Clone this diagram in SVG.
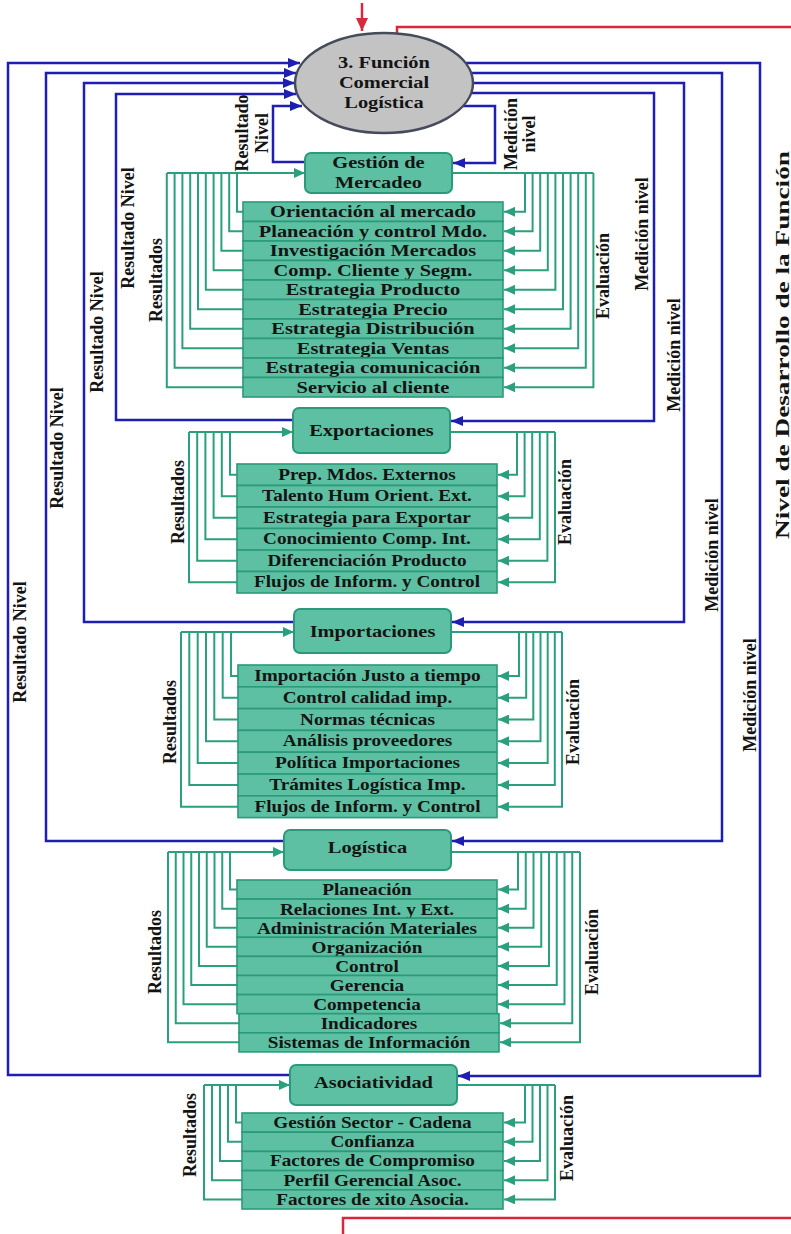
<svg xmlns="http://www.w3.org/2000/svg" width="791" height="1234" viewBox="0 0 791 1234">
  <style>
    text { font-family: "Liberation Serif", "Times New Roman", serif; font-weight: bold; fill: #141414; }
    .w { transform-box: fill-box; transform-origin: center; transform: scaleX(1.2); text-anchor: middle; }
    .hd { font-size: 17px; }
    .r17 { font-size: 17px; }
    .r16 { font-size: 16px; }
    .lb { font-size: 18px; text-anchor: middle; }
    .box { fill: #5ec0a2; stroke: #2a9a7a; stroke-width: 2; }
    .row { fill: #5ec0a2; stroke: #2a9a7a; stroke-width: 1.6; }
    .g { fill: none; stroke: #2ba07f; stroke-width: 2; }
    .ga { fill: none; stroke: #2ba07f; stroke-width: 2; marker-end: url(#ag); }
    .b { fill: none; stroke: #1e1eb2; stroke-width: 2.5; marker-end: url(#ab); }
    .rd { fill: none; stroke: #d9283c; stroke-width: 2.5; }
  </style>
  <defs>
    <marker id="ag" markerUnits="userSpaceOnUse" markerWidth="12" markerHeight="10" refX="11" refY="5" orient="auto">
      <path d="M0,0 L11,5 L0,10 z" fill="#2ba07f"/>
    </marker>
    <marker id="ab" markerUnits="userSpaceOnUse" markerWidth="13" markerHeight="10" refX="12" refY="5" orient="auto">
      <path d="M0,0 L12,5 L0,10 z" fill="#1e1eb2"/>
    </marker>
    <marker id="ar" markerUnits="userSpaceOnUse" markerWidth="14" markerHeight="14" refX="13" refY="6" orient="auto">
      <path d="M0,0 L13,6 L0,12 z" fill="#d9283c"/>
    </marker>
  </defs>

  <g id="connectors">
    <!-- red input / output -->
    <path class="rd" d="M362 3 V31" marker-end="url(#ar)"/>
    <path class="rd" d="M397 36 V27 H791"/>
    <path class="rd" d="M343 1234 V1218 H791"/>

    <!-- blue: results back to the function (left side) -->
    <path class="b" d="M290 1075 H8 V63 H300"/>
    <path class="b" d="M284 841 H46 V73 H296"/>
    <path class="b" d="M294 622 H84 V83 H295"/>
    <path class="b" d="M293 420 H116 V94 H296"/>
    <path class="b" d="M305 162 H273 V106 H302"/>

    <!-- blue: level measurement (right side) -->
    <path class="b" d="M460 63 H760 V1076 H458"/>
    <path class="b" d="M465 73 H722 V841 H452"/>
    <path class="b" d="M465 83 H684 V622 H452"/>
    <path class="b" d="M465 93 H654 V421 H451"/>
    <path class="b" d="M460 106 H495 V163 H453"/>

    <!-- Gestión de Mercadeo trees -->
    <path class="ga" d="M167 173 H305"/>
    <path class="g" d="M243 211.75 H237 V173 M243 231.25 H229.2 V173 M243 250.75 H221.4 V173 M243 270.25 H213.6 V173 M243 289.75 H205.8 V173 M243 309.25 H198 V173 M243 328.75 H190.2 V173 M243 348.25 H182.4 V173 M243 367.75 H174.6 V173 M243 387.25 H166.8 V173"/>
    <path class="g" d="M452 173 H593.4"/>
    <path class="ga" d="M525 173 V211.75 H504"/>
    <path class="ga" d="M532.6 173 V231.25 H504"/>
    <path class="ga" d="M540.2 173 V250.75 H504"/>
    <path class="ga" d="M547.8 173 V270.25 H504"/>
    <path class="ga" d="M555.4 173 V289.75 H504"/>
    <path class="ga" d="M563 173 V309.25 H504"/>
    <path class="ga" d="M570.6 173 V328.75 H504"/>
    <path class="ga" d="M578.2 173 V348.25 H504"/>
    <path class="ga" d="M585.8 173 V367.75 H504"/>
    <path class="ga" d="M593.4 173 V387.25 H504"/>

    <!-- Exportaciones trees -->
    <path class="ga" d="M189 432 H293"/>
    <path class="g" d="M237 474.75 H230 V432 M237 496.25 H221.8 V432 M237 517.75 H213.6 V432 M237 539.25 H205.4 V432 M237 560.75 H197.2 V432 M237 582.25 H189 V432"/>
    <path class="g" d="M450 432 H555"/>
    <path class="ga" d="M517 432 V474.75 H498"/>
    <path class="ga" d="M524.6 432 V496.25 H498"/>
    <path class="ga" d="M532.2 432 V517.75 H498"/>
    <path class="ga" d="M539.8 432 V539.25 H498"/>
    <path class="ga" d="M547.4 432 V560.75 H498"/>
    <path class="ga" d="M555 432 V582.25 H498"/>

    <!-- Importaciones trees -->
    <path class="ga" d="M181 632 H294"/>
    <path class="g" d="M238 675.9 H231 V632 M238 697.7 H222.7 V632 M238 719.5 H214.3 V632 M238 741.3 H206 V632 M238 763.1 H197.7 V632 M238 784.9 H189.3 V632 M238 806.7 H181 V632"/>
    <path class="g" d="M451 632 H562"/>
    <path class="ga" d="M519 632 V675.9 H498"/>
    <path class="ga" d="M526.2 632 V697.7 H498"/>
    <path class="ga" d="M533.3 632 V719.5 H498"/>
    <path class="ga" d="M540.5 632 V741.3 H498"/>
    <path class="ga" d="M547.7 632 V763.1 H498"/>
    <path class="ga" d="M554.8 632 V784.9 H498"/>
    <path class="ga" d="M562 632 V806.7 H498"/>

    <!-- Logística trees -->
    <path class="ga" d="M168 852 H284"/>
    <path class="g" d="M237 889.55 H230 V852 M237 908.65 H222.25 V852 M237 927.75 H214.5 V852 M237 946.85 H206.75 V852 M237 965.95 H199 V852 M237 985.05 H191.25 V852 M237 1004.15 H183.5 V852 M239 1023.25 H175.75 V852 M239 1042.35 H168 V852"/>
    <path class="g" d="M451 852 H580"/>
    <path class="ga" d="M518 852 V889.55 H498"/>
    <path class="ga" d="M525.75 852 V908.65 H498"/>
    <path class="ga" d="M533.5 852 V927.75 H498"/>
    <path class="ga" d="M541.25 852 V946.85 H498"/>
    <path class="ga" d="M549 852 V965.95 H498"/>
    <path class="ga" d="M556.75 852 V985.05 H498"/>
    <path class="ga" d="M564.5 852 V1004.15 H498"/>
    <path class="ga" d="M572.25 852 V1023.25 H500"/>
    <path class="ga" d="M580 852 V1042.35 H500"/>

    <!-- Asociatividad trees -->
    <path class="ga" d="M204 1085 H290"/>
    <path class="g" d="M242 1122.6 H236 V1085 M242 1141.8 H228 V1085 M242 1161 H220 V1085 M242 1180.2 H212 V1085 M242 1199.4 H204 V1085"/>
    <path class="g" d="M457 1085 H555"/>
    <path class="ga" d="M525 1085 V1122.6 H504"/>
    <path class="ga" d="M532.5 1085 V1141.8 H504"/>
    <path class="ga" d="M540 1085 V1161 H504"/>
    <path class="ga" d="M547.5 1085 V1180.2 H504"/>
    <path class="ga" d="M555 1085 V1199.4 H504"/>
  </g>

  <g id="labels">
    <text class="lb" x="248" y="133" transform="rotate(-90 248 133)">Resultado</text>
    <text class="lb" x="268" y="133" transform="rotate(-90 268 133)">Nivel</text>
    <text class="lb" x="517" y="134" transform="rotate(-90 517 134)">Medición</text>
    <text class="lb" x="535" y="134" transform="rotate(-90 535 134)">nivel</text>
    <text class="lb" x="134" y="228" transform="rotate(-90 134 228)">Resultado Nivel</text>
    <text class="lb" x="103" y="332" transform="rotate(-90 103 332)">Resultado Nivel</text>
    <text class="lb" x="63" y="448" transform="rotate(-90 63 448)">Resultado Nivel</text>
    <text class="lb" x="26" y="642" transform="rotate(-90 26 642)">Resultado Nivel</text>
    <text class="lb" x="648" y="234" transform="rotate(-90 648 234)">Medición nivel</text>
    <text class="lb" x="680" y="355" transform="rotate(-90 680 355)">Medición nivel</text>
    <text class="lb" x="718" y="555" transform="rotate(-90 718 555)">Medición nivel</text>
    <text class="lb" x="756" y="695" transform="rotate(-90 756 695)">Medición nivel</text>
    <text class="lb" x="789" y="345" font-size="19" textLength="388" lengthAdjust="spacingAndGlyphs" transform="rotate(-90 789 345)">Nivel de Desarrollo de la Función</text>
    <text class="lb" x="162" y="280" transform="rotate(-90 162 280)">Resultados</text>
    <text class="lb" x="609" y="276" transform="rotate(-90 609 276)">Evaluación</text>
    <text class="lb" x="184" y="502" transform="rotate(-90 184 502)">Resultados</text>
    <text class="lb" x="571" y="502" transform="rotate(-90 571 502)">Evaluación</text>
    <text class="lb" x="176" y="722" transform="rotate(-90 176 722)">Resultados</text>
    <text class="lb" x="579" y="722" transform="rotate(-90 579 722)">Evaluación</text>
    <text class="lb" x="161" y="952" transform="rotate(-90 161 952)">Resultados</text>
    <text class="lb" x="598" y="952" transform="rotate(-90 598 952)">Evaluación</text>
    <text class="lb" x="196" y="1135" transform="rotate(-90 196 1135)">Resultados</text>
    <text class="lb" x="573" y="1138" transform="rotate(-90 573 1138)">Evaluación</text>
  </g>

  <g id="n-funcion">
    <ellipse cx="384" cy="83" rx="89" ry="50" fill="#c3c3c3" stroke="#454b5a" stroke-width="2.5"/>
    <text class="w hd" x="384" y="68">3. Función</text>
    <text class="w hd" x="384" y="88">Comercial</text>
    <text class="w hd" x="384" y="108">Logística</text>
  </g>

  <g id="n-mercadeo">
    <rect class="box" x="305" y="153" width="147" height="40" rx="6"/>
    <text class="w hd" x="378.5" y="168">Gestión de</text>
    <text class="w hd" x="378.5" y="188">Mercadeo</text>
  </g>
  <g id="n-mercadeo-items" class="r17">
    <g id="m1"><rect class="row" x="243" y="202" width="260" height="19.5"/><text class="w" x="373" y="217.5">Orientación al mercado</text></g>
    <g id="m2"><rect class="row" x="243" y="221.5" width="260" height="19.5"/><text class="w" x="373" y="237">Planeación y control Mdo.</text></g>
    <g id="m3"><rect class="row" x="243" y="241" width="260" height="19.5"/><text class="w" x="373" y="256.5">Investigación Mercados</text></g>
    <g id="m4"><rect class="row" x="243" y="260.5" width="260" height="19.5"/><text class="w" x="373" y="276">Comp. Cliente y Segm.</text></g>
    <g id="m5"><rect class="row" x="243" y="280" width="260" height="19.5"/><text class="w" x="373" y="295.5">Estrategia Producto</text></g>
    <g id="m6"><rect class="row" x="243" y="299.5" width="260" height="19.5"/><text class="w" x="373" y="315">Estrategia Precio</text></g>
    <g id="m7"><rect class="row" x="243" y="319" width="260" height="19.5"/><text class="w" x="373" y="334.5">Estrategia Distribución</text></g>
    <g id="m8"><rect class="row" x="243" y="338.5" width="260" height="19.5"/><text class="w" x="373" y="354">Estrategia Ventas</text></g>
    <g id="m9"><rect class="row" x="243" y="358" width="260" height="19.5"/><text class="w" x="373" y="373.5">Estrategia comunicación</text></g>
    <g id="m10"><rect class="row" x="243" y="377.5" width="260" height="19.5"/><text class="w" x="373" y="393">Servicio al cliente</text></g>
  </g>

  <g id="n-exportaciones">
    <rect class="box" x="293" y="408" width="157" height="45" rx="6"/>
    <text class="w hd" x="371.5" y="436">Exportaciones</text>
  </g>
  <g id="n-exportaciones-items" class="r16">
    <g id="e1"><rect class="row" x="237" y="464" width="260" height="21.5"/><text class="w" x="367" y="480">Prep. Mdos. Externos</text></g>
    <g id="e2"><rect class="row" x="237" y="485.5" width="260" height="21.5"/><text class="w" x="367" y="501.5">Talento Hum Orient. Ext.</text></g>
    <g id="e3"><rect class="row" x="237" y="507" width="260" height="21.5"/><text class="w" x="367" y="523">Estrategia para Exportar</text></g>
    <g id="e4"><rect class="row" x="237" y="528.5" width="260" height="21.5"/><text class="w" x="367" y="544.5">Conocimiento Comp. Int.</text></g>
    <g id="e5"><rect class="row" x="237" y="550" width="260" height="21.5"/><text class="w" x="367" y="566">Diferenciación Producto</text></g>
    <g id="e6"><rect class="row" x="237" y="571.5" width="260" height="21.5"/><text class="w" x="367" y="587.5">Flujos de Inform. y Control</text></g>
  </g>

  <g id="n-importaciones">
    <rect class="box" x="294" y="609" width="157" height="44" rx="6"/>
    <text class="w hd" x="372.5" y="637">Importaciones</text>
  </g>
  <g id="n-importaciones-items" class="r16">
    <g id="i1"><rect class="row" x="238" y="665" width="259" height="21.8"/><text class="w" x="367.5" y="681">Importación Justo a tiempo</text></g>
    <g id="i2"><rect class="row" x="238" y="686.8" width="259" height="21.8"/><text class="w" x="367.5" y="702.8">Control calidad imp.</text></g>
    <g id="i3"><rect class="row" x="238" y="708.6" width="259" height="21.8"/><text class="w" x="367.5" y="724.6">Normas técnicas</text></g>
    <g id="i4"><rect class="row" x="238" y="730.4" width="259" height="21.8"/><text class="w" x="367.5" y="746.4">Análisis proveedores</text></g>
    <g id="i5"><rect class="row" x="238" y="752.2" width="259" height="21.8"/><text class="w" x="367.5" y="768.2">Política Importaciones</text></g>
    <g id="i6"><rect class="row" x="238" y="774" width="259" height="21.8"/><text class="w" x="367.5" y="790">Trámites Logística Imp.</text></g>
    <g id="i7"><rect class="row" x="238" y="795.8" width="259" height="21.8"/><text class="w" x="367.5" y="811.8">Flujos de Inform. y Control</text></g>
  </g>

  <g id="n-logistica">
    <rect class="box" x="284" y="830" width="167" height="40" rx="6"/>
    <text class="w hd" x="367.5" y="853">Logística</text>
  </g>
  <g id="n-logistica-items" class="r16">
    <g id="l1"><rect class="row" x="237" y="880" width="260" height="19.1"/><text class="w" x="367" y="895.5">Planeación</text></g>
    <g id="l2"><rect class="row" x="237" y="899.1" width="260" height="19.1"/><text class="w" x="367" y="914.6">Relaciones Int. y Ext.</text></g>
    <g id="l3"><rect class="row" x="237" y="918.2" width="260" height="19.1"/><text class="w" x="367" y="933.7">Administración Materiales</text></g>
    <g id="l4"><rect class="row" x="237" y="937.3" width="260" height="19.1"/><text class="w" x="367" y="952.8">Organización</text></g>
    <g id="l5"><rect class="row" x="237" y="956.4" width="260" height="19.1"/><text class="w" x="367" y="971.9">Control</text></g>
    <g id="l6"><rect class="row" x="237" y="975.5" width="260" height="19.1"/><text class="w" x="367" y="991">Gerencia</text></g>
    <g id="l7"><rect class="row" x="237" y="994.6" width="260" height="19.1"/><text class="w" x="367" y="1010.1">Competencia</text></g>
    <g id="l8"><rect class="row" x="239" y="1013.7" width="260" height="19.1"/><text class="w" x="369" y="1029.2">Indicadores</text></g>
    <g id="l9"><rect class="row" x="239" y="1032.8" width="260" height="19.1"/><text class="w" x="369" y="1048.3">Sistemas de Información</text></g>
  </g>

  <g id="n-asociatividad">
    <rect class="box" x="290" y="1065" width="167" height="40" rx="6"/>
    <text class="w hd" x="373.5" y="1088">Asociatividad</text>
  </g>
  <g id="n-asociatividad-items" class="r16">
    <g id="a1"><rect class="row" x="242" y="1113" width="261" height="19.2"/><text class="w" x="372.5" y="1128">Gestión Sector - Cadena</text></g>
    <g id="a2"><rect class="row" x="242" y="1132.2" width="261" height="19.2"/><text class="w" x="372.5" y="1147.2">Confianza</text></g>
    <g id="a3"><rect class="row" x="242" y="1151.4" width="261" height="19.2"/><text class="w" x="372.5" y="1166.4">Factores de Compromiso</text></g>
    <g id="a4"><rect class="row" x="242" y="1170.6" width="261" height="19.2"/><text class="w" x="372.5" y="1185.6">Perfil Gerencial Asoc.</text></g>
    <g id="a5"><rect class="row" x="242" y="1189.8" width="261" height="19.2"/><text class="w" x="372.5" y="1204.8">Factores de xito Asocia.</text></g>
  </g>
</svg>
